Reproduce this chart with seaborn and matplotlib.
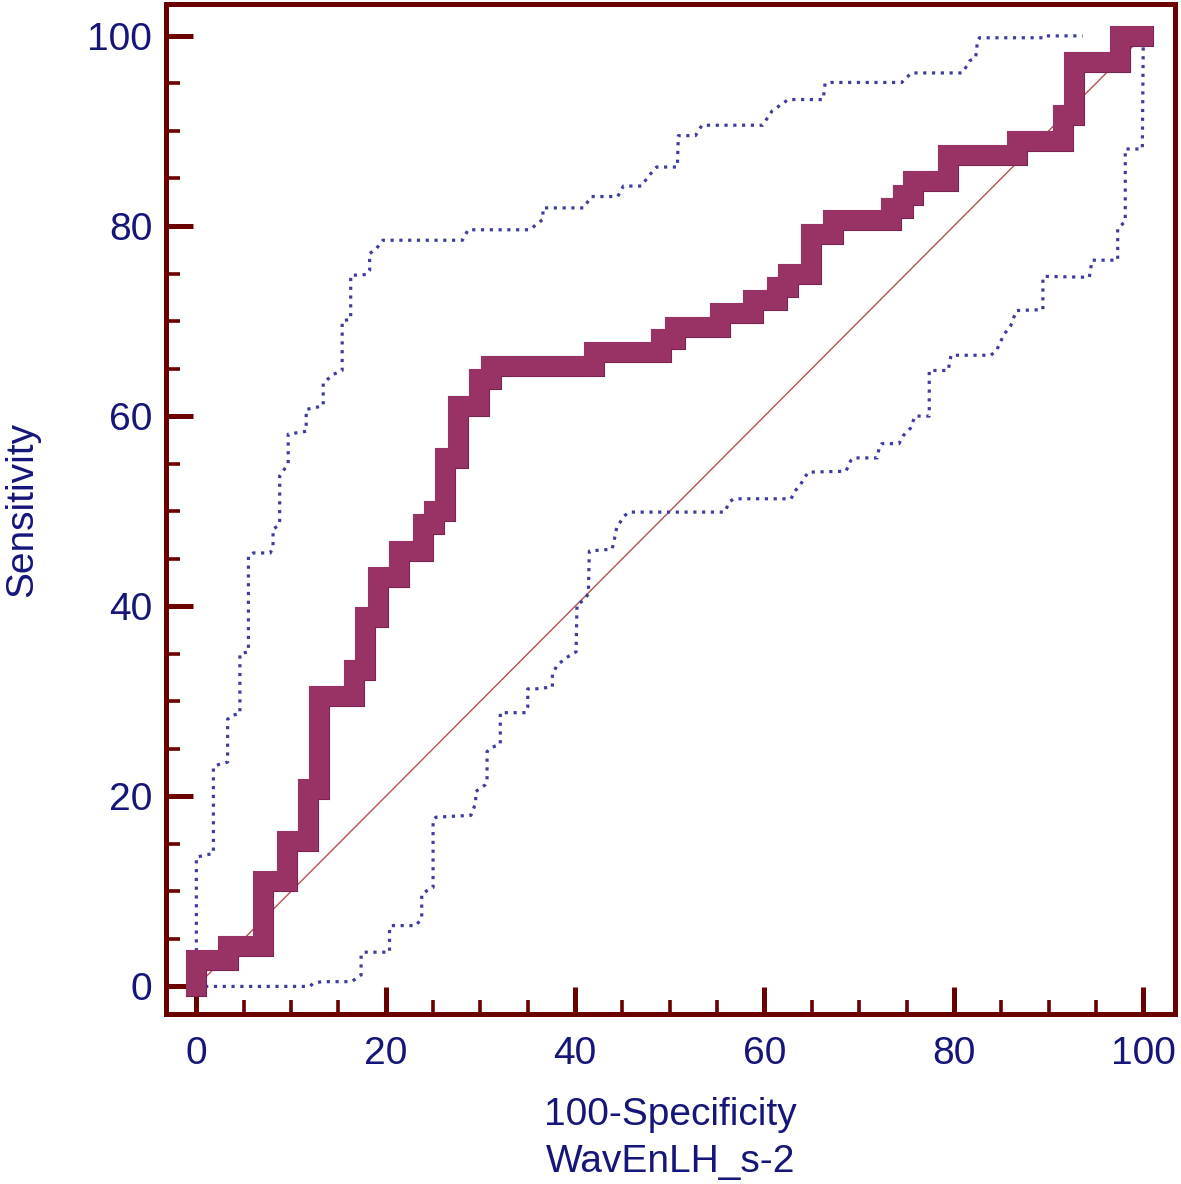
import matplotlib
matplotlib.use("Agg")
import matplotlib.pyplot as plt
import matplotlib.patheffects as pe
from matplotlib.ticker import MultipleLocator
import seaborn as sns

# ROC step curve (100-Specificity, Sensitivity), vertical-first steps
roc_fpr = [0, 3.3, 7.05, 9.6, 11.8, 13.0, 16.7, 17.8, 19.2, 21.4,
           23.9, 25.1, 26.3, 27.6, 29.9, 31.1, 42.0, 49.1, 50.6, 55.3,
           58.8, 61.3, 62.5, 64.9, 67.2, 73.4, 74.6, 75.7, 79.4, 86.7,
           91.5, 92.7, 97.5, 100]
roc_tpr = [0, 2.8, 4.2, 11.1, 15.3, 20.8, 30.6, 33.3, 38.9, 43.1,
           45.8, 48.6, 50.0, 55.6, 61.1, 63.9, 65.3, 66.7, 68.1, 69.4,
           70.8, 72.2, 73.6, 75.0, 79.2, 80.6, 81.9, 83.3, 84.7, 87.5,
           88.9, 91.7, 97.2, 100]

# upper confidence bound
upper_fpr = [0, 0, 1.8, 1.8, 2.5, 3.3, 3.3, 3.7, 4.6, 4.6,
             5.5, 5.5, 6.0, 7.8, 8.1, 8.1, 8.7, 8.8, 8.8, 9.7,
             9.7, 11.6, 11.6, 12.6, 13.4, 13.4, 14.5, 15.4, 15.4, 16.3,
             16.3, 18.0, 18.3, 18.3, 19.0, 19.7, 28.1, 28.7, 35.2, 36.6,
             36.6, 40.9, 41.7, 44.5, 45.1, 47.0, 47.8, 48.6, 50.8, 50.9,
             52.7, 53.4, 59.8, 60.8, 62.5, 66.2, 66.4, 67.1, 74.5, 75.5,
             80.9, 81.7, 82.3, 82.5, 82.7, 89.4, 89.5, 93.6]
upper_tpr = [0, 13.6, 14.0, 23.1, 23.4, 23.6, 28.1, 28.5, 28.7, 35.0,
             35.2, 45.3, 45.6, 45.6, 46.2, 48.1, 48.5, 49.0, 53.7, 55.0,
             58.1, 58.4, 60.7, 60.9, 61.1, 63.5, 64.4, 64.8, 70.0, 70.2,
             74.8, 74.9, 75.3, 77.1, 77.6, 78.5, 78.5, 79.6, 79.6, 80.7,
             81.9, 81.9, 83.1, 83.1, 84.2, 84.2, 85.3, 86.2, 86.2, 89.5,
             89.5, 90.6, 90.6, 92.1, 93.3, 93.3, 95.0, 95.1, 95.1, 96.1,
             96.1, 97.4, 97.7, 99.5, 99.8, 99.8, 100, 100]

# lower confidence bound
lower_fpr = [0, 12.0, 12.3, 13.2, 16.4, 17.4, 17.4, 17.6, 20.4, 20.4,
             20.6, 23.2, 23.8, 23.8, 24.4, 25.0, 25.0, 25.3, 29.0, 29.5,
             29.5, 30.5, 30.7, 30.7, 31.1, 32.1, 32.1, 34.8, 35.0, 35.0,
             35.8, 37.6, 37.6, 38.1, 39.1, 40.1, 40.2, 40.9, 41.4, 41.5,
             42.6, 43.9, 44.1, 44.4, 45.2, 45.7, 55.8, 56.3, 56.8, 62.8,
             63.3, 63.8, 64.6, 68.6, 69.1, 69.4, 71.9, 72.1, 72.4, 74.2,
             74.7, 75.4, 75.9, 77.4, 77.4, 78.0, 79.4, 79.7, 83.9, 84.5,
             85.3, 86.0, 86.6, 89.4, 89.4, 89.5, 94.3, 94.6, 97.3, 97.3,
             98.1, 98.1, 99.9, 100, 100]
lower_tpr = [0, 0, 0.3, 0.5, 0.5, 1.2, 3.3, 3.6, 3.6, 6.2,
             6.4, 6.4, 7.2, 9.7, 10.1, 10.4, 17.5, 17.8, 18.0, 19.3,
             20.5, 21.2, 21.5, 24.7, 25.1, 25.5, 28.8, 28.8, 29.4, 31.3,
             31.3, 31.5, 32.8, 33.8, 34.6, 35.2, 40.2, 40.6, 41.3, 45.8,
             45.9, 46.0, 46.8, 48.3, 49.5, 49.9, 49.9, 51.0, 51.3, 51.3,
             52.2, 52.8, 54.1, 54.2, 55.3, 55.6, 55.6, 56.6, 57.1, 57.1,
             58.0, 58.7, 60.0, 60.0, 64.8, 64.8, 64.8, 66.4, 66.4, 66.9,
             68.6, 69.5, 71.1, 71.2, 74.6, 74.7, 74.6, 76.4, 76.4, 79.7,
             80.5, 88.1, 88.1, 99.1, 100]

ref_line = [0, 100]

FRAME = "#6b0000"
NAVY = "#15157a"
ROC_COLOR = "#993366"
CI_COLOR = "#3d3d9e"

sns.set_style("white")
plt.rcParams["font.family"] = ["Liberation Sans", "DejaVu Sans"]

fig = plt.figure(figsize=(11.81, 11.84), dpi=100)
ax = fig.add_axes([0.1406, 0.1436, 0.9953 - 0.1406, 0.9962 - 0.1436])

sns.lineplot(x=ref_line, y=ref_line, ax=ax, color="#b85050", linewidth=1.0,
             sort=False, estimator=None, zorder=2)
for xs, ys in [(upper_fpr, upper_tpr), (lower_fpr, lower_tpr)]:
    sns.lineplot(x=xs, y=ys, ax=ax, color=CI_COLOR, linewidth=2.3,
                 linestyle=(0, (1, 1.75)), sort=False, estimator=None, zorder=3)

sns.lineplot(x=roc_fpr, y=roc_tpr, ax=ax, color=ROC_COLOR, linewidth=14.4,
             drawstyle="steps-pre", sort=False, estimator=None,
             solid_capstyle="projecting", solid_joinstyle="miter", zorder=4,
             path_effects=[pe.Stroke(linewidth=15.2, foreground="#7a2350"),
                           pe.Normal()])

ax.set_xlim(-3.2, 103.4)
ax.set_ylim(-2.9, 103.3)
ax.xaxis.set_major_locator(MultipleLocator(20))
ax.yaxis.set_major_locator(MultipleLocator(20))
ax.xaxis.set_minor_locator(MultipleLocator(5))
ax.yaxis.set_minor_locator(MultipleLocator(5))

for s in ax.spines.values():
    s.set_color(FRAME)
    s.set_linewidth(3.6)

ax.tick_params(which="both", direction="in", color=FRAME,
               bottom=True, left=True, top=False, right=False)
ax.tick_params(which="major", length=19.5, width=3.6, labelsize=28,
               labelcolor=NAVY, pad=10)
ax.tick_params(axis="x", which="major", pad=16)
ax.tick_params(which="minor", length=10, width=2.6)

ax.set_xlabel("100-Specificity\nWavEnLH_s-2", fontsize=28, color=NAVY,
              labelpad=18, linespacing=1.37)
ax.set_ylabel("Sensitivity", fontsize=28, color=NAVY, labelpad=34)

fig.savefig("out.png", dpi=100)
plt.close(fig)
